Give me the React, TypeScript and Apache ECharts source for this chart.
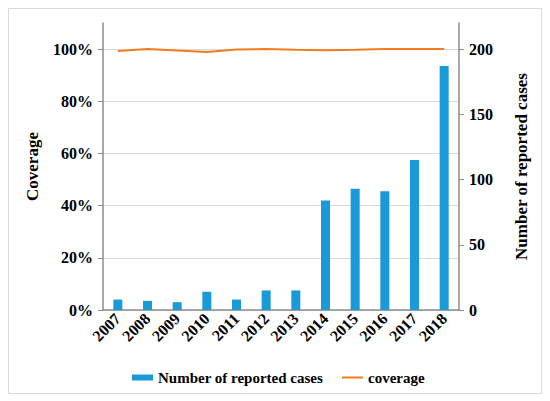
import React, { useEffect, useRef } from "react";
import * as echarts from "echarts";

const years = ["2007", "2008", "2009", "2010", "2011", "2012", "2013", "2014", "2015", "2016", "2017", "2018"];
const reportedCases = [8, 7, 6, 14, 8, 15, 15, 84, 93, 91, 115, 187];
const coverage = [99.3, 100, 99.5, 98.9, 99.8, 100, 99.7, 99.6, 99.7, 100, 100, 100];
const coverageTicks = [0, 20, 40, 60, 80, 100];
const casesTicks = [0, 50, 100, 150, 200];

const FONT = "Liberation Serif";
const AXIS_COLOR = "#8c8c8c";
const BAR_COLOR = "#1a9bd7";
const LINE_COLOR = "#f47b20";

const txt = (size: number) => ({
  fontFamily: FONT,
  fontWeight: "bold" as const,
  fontSize: size,
  color: "#000",
});

export default function App() {
  const ref = useRef<HTMLDivElement>(null);
  useEffect(() => {
    if (!ref.current) return;
    const chart = echarts.init(ref.current, null, { renderer: "svg" });
    chart.setOption({
      animation: false,
      backgroundColor: "#ffffff",
      textStyle: { fontFamily: FONT },
      graphic: [
        {
          type: "rect",
          shape: { x: 8.5, y: 8.5, width: 533, height: 385 },
          style: { fill: "none", stroke: "#d9d9d9", lineWidth: 1 },
          silent: true,
        },
      ],
      grid: { left: 103, right: 91, top: 23, bottom: 91, containLabel: false },
      legend: [
        {
          top: 365,
          left: 127,
          itemWidth: 21,
          itemHeight: 6,
          icon: "rect",
          textStyle: txt(15),
          data: ["Number of reported cases"],
        },
        {
          top: 365,
          left: 337,
          itemWidth: 21,
          itemHeight: 2,
          icon: "rect",
          textStyle: txt(15),
          data: ["coverage"],
        },
      ],
      xAxis: {
        type: "category",
        data: years,
        axisLine: { lineStyle: { color: AXIS_COLOR, width: 1.5 } },
        axisTick: { show: false },
        axisLabel: {
          rotate: 45,
          interval: 0,
          margin: 6,
          ...txt(16),
        },
      },
      yAxis: [
        {
          type: "value",
          min: 0,
          max: 110,
          name: "Coverage",
          nameLocation: "middle",
          nameRotate: 90,
          nameGap: 62,
          nameTextStyle: txt(17),
          axisLine: { show: true, lineStyle: { color: AXIS_COLOR, width: 1.5 } },
          axisTick: { show: true, length: 5, customValues: coverageTicks, lineStyle: { color: AXIS_COLOR } },
          axisLabel: {
            customValues: coverageTicks,
            formatter: (v: number) => v + "%",
            margin: 10,
            ...txt(16),
          },
          splitLine: { show: true, lineStyle: { color: "#d9d9d9", width: 1 } },
        },
        {
          type: "value",
          min: 0,
          max: 220,
          position: "right",
          name: "Number of reported cases",
          nameLocation: "middle",
          nameRotate: 90,
          nameGap: 54,
          nameTextStyle: txt(17),
          axisLine: { show: true, lineStyle: { color: AXIS_COLOR, width: 1.5 } },
          axisTick: { show: true, length: 5, customValues: casesTicks, lineStyle: { color: AXIS_COLOR } },
          axisLabel: {
            customValues: casesTicks,
            margin: 10,
            ...txt(16),
          },
          splitLine: { show: false },
        },
      ],
      series: [
        {
          name: "Number of reported cases",
          type: "bar",
          yAxisIndex: 1,
          data: reportedCases,
          barWidth: 9,
          itemStyle: { color: BAR_COLOR },
        },
        {
          name: "coverage",
          type: "line",
          yAxisIndex: 0,
          data: coverage,
          symbol: "none",
          lineStyle: { color: LINE_COLOR, width: 2 },
          itemStyle: { color: LINE_COLOR },
        },
      ],
    });
    return () => chart.dispose();
  }, []);
  return (
    <div
      ref={ref}
      style={{ position: "absolute", left: 0, top: 0, width: 550, height: 401 }}
    />
  );
}
